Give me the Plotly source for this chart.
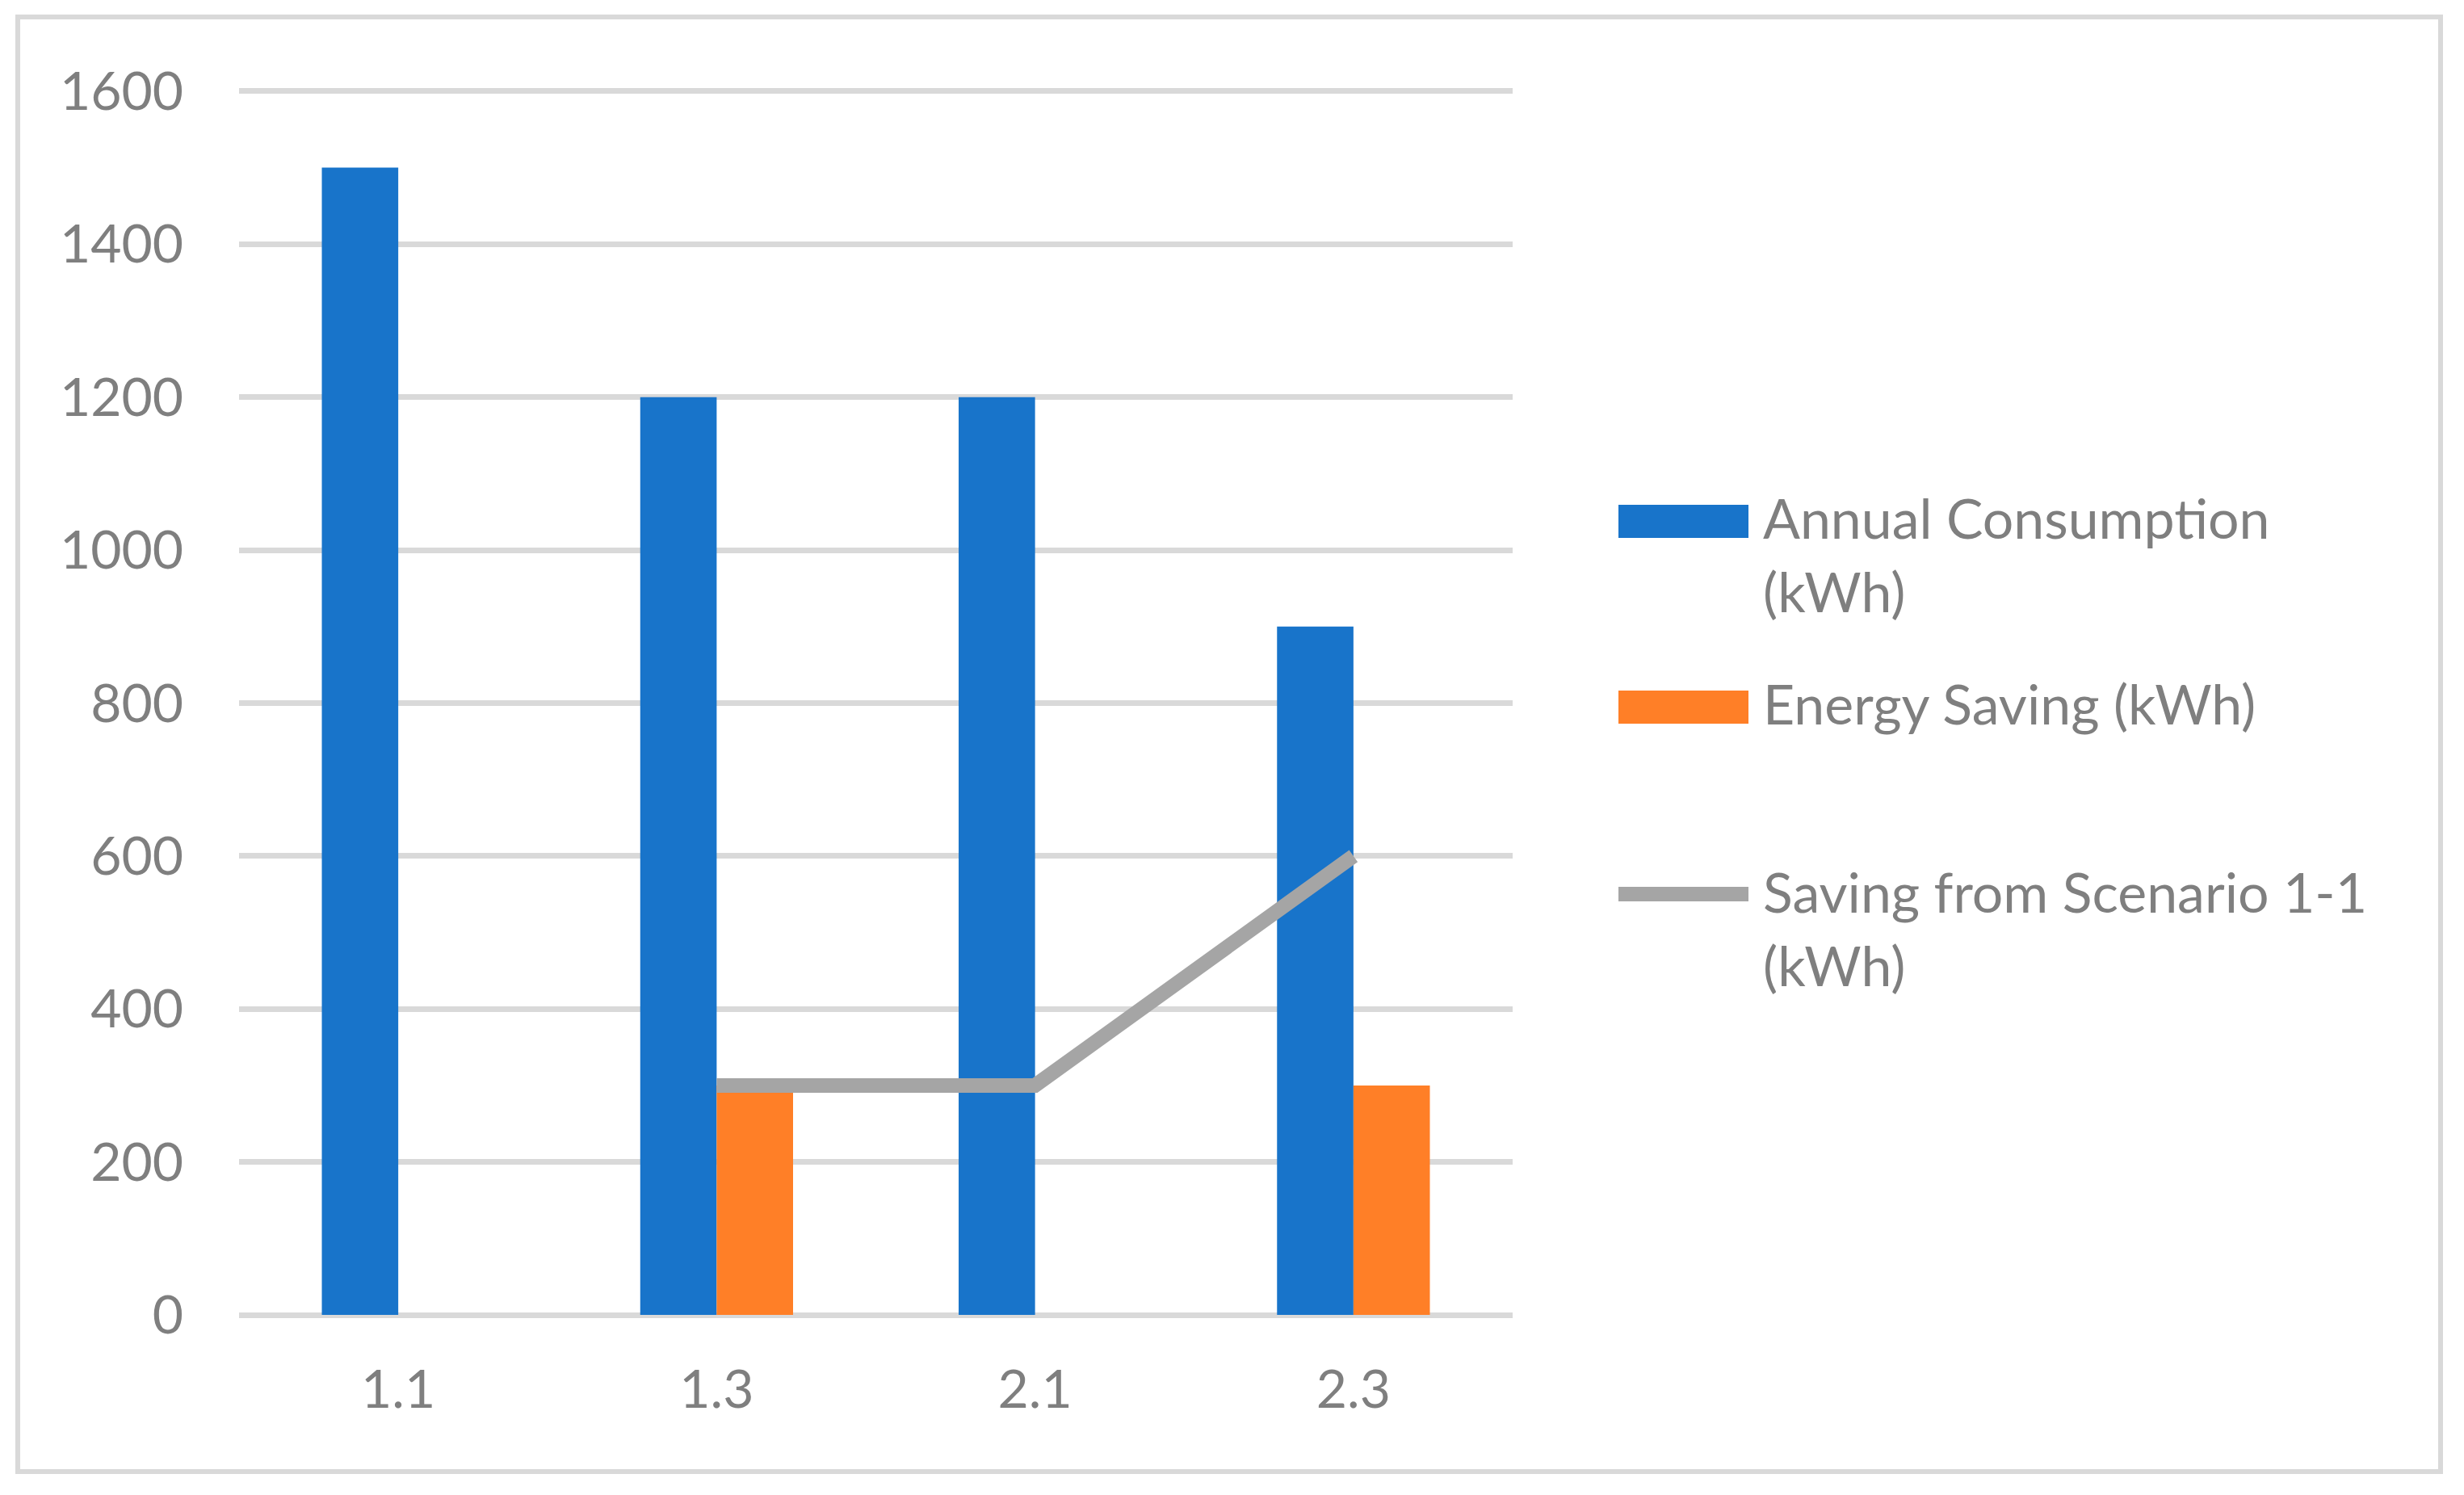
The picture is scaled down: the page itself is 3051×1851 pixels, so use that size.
import plotly.graph_objects as go

# ---- data ----
categories = ["1.1", "1.3", "2.1", "2.3"]
annual_consumption = [1500, 1200, 1200, 900]
energy_saving = [None, 300, 0, 300]
saving_from_1_1 = [None, 300, 300, 600]
series_names = ["Annual Consumption (kWh)", "Energy Saving (kWh)", "Saving from Scenario 1-1 (kWh)"]
legend_lines = [["Annual Consumption", "(kWh)"], ["Energy Saving (kWh)"], ["Saving from Scenario 1-1", "(kWh)"]]
y_ticks = [0, 200, 400, 600, 800, 1000, 1200, 1400, 1600]

# ---- styling / layout (pixel positions in the 3051x1851 window) ----
OFF = 8  # default page body margin of the written html
W, H = 3051 - OFF, 1851 - OFF
Y_TOP = 1602  # small headroom so the 1600 gridline is drawn
L0, R0, B0 = 296, 1873, 1628
T0_1600 = 113
unit = (B0 - T0_1600) / 1600.0
T0 = B0 - unit * Y_TOP
L, R, T, B = L0 - OFF, R0 - OFF, T0 - OFF, B0 - OFF

BLUE = "#1874CA"
ORANGE = "#FF7F27"
GRAY = "#A5A5A5"
GRID = "#D9D9D9"
TXT = "#7F7F7F"
FONT = "Lato"
FS = 66
FS_LEG = 68


def px_x(x):
    return (x - OFF - L) / (R - L)


def px_y(y):
    return (B - (y - OFF)) / (B - T)


fig = go.Figure()
fig.add_trace(go.Bar(x=categories, y=annual_consumption, name=series_names[0],
                     marker=dict(color=BLUE, line=dict(width=0)), showlegend=False))
fig.add_trace(go.Bar(x=categories, y=energy_saving, name=series_names[1],
                     marker=dict(color=ORANGE, line=dict(width=0)), showlegend=False))
fig.add_trace(go.Scatter(x=categories, y=saving_from_1_1, name=series_names[2], mode="lines",
                         line=dict(color=GRAY, width=18), connectgaps=False, showlegend=False))

shapes = []
annotations = []
# outer chart border
shapes.append(dict(type="rect", xref="paper", yref="paper",
                   x0=px_x(22), x1=px_x(3022), y0=px_y(1822), y1=px_y(21),
                   line=dict(color=GRID, width=6), fillcolor="rgba(0,0,0,0)", layer="below"))

# manual legend (Excel-style wide keys)
sym_x0, sym_x1 = 2004, 2165
shapes.append(dict(type="rect", xref="paper", yref="paper",
                   x0=px_x(sym_x0), x1=px_x(sym_x1), y0=px_y(666), y1=px_y(625),
                   fillcolor=BLUE, line=dict(width=0)))
shapes.append(dict(type="rect", xref="paper", yref="paper",
                   x0=px_x(sym_x0), x1=px_x(sym_x1), y0=px_y(896), y1=px_y(855),
                   fillcolor=ORANGE, line=dict(width=0)))
shapes.append(dict(type="line", xref="paper", yref="paper",
                   x0=px_x(sym_x0), x1=px_x(sym_x1), y0=px_y(1107), y1=px_y(1107),
                   line=dict(color=GRAY, width=18)))

line_centers = [[641, 732], [871], [1104, 1195]]
for lines, centers in zip(legend_lines, line_centers):
    for txt, cy in zip(lines, centers):
        annotations.append(dict(text=txt, xref="paper", yref="paper",
                                x=px_x(2181), y=px_y(cy), xanchor="left", yanchor="middle",
                                showarrow=False, font=dict(family=FONT, size=FS_LEG, color=TXT)))

fig.update_layout(
    width=W, height=H,
    margin=dict(l=L, r=W - R, t=T, b=H - B, pad=0),
    paper_bgcolor="white", plot_bgcolor="white",
    barmode="group", bargap=0.52, bargroupgap=0,
    font=dict(family=FONT, size=FS, color=TXT),
    shapes=shapes, annotations=annotations,
    showlegend=False,
    xaxis=dict(type="category", showgrid=False, showline=False, zeroline=False, ticks="",
               tickfont=dict(family=FONT, size=FS, color=TXT), ticklabelstandoff=48),
    yaxis=dict(range=[0, Y_TOP], tickvals=y_ticks, showgrid=True, gridcolor=GRID, gridwidth=7,
               zeroline=True, zerolinecolor=GRID, zerolinewidth=7, showline=False, ticks="",
               tickfont=dict(family=FONT, size=FS, color=TXT), ticklabelstandoff=68),
)

fig.write_html("out.html")
